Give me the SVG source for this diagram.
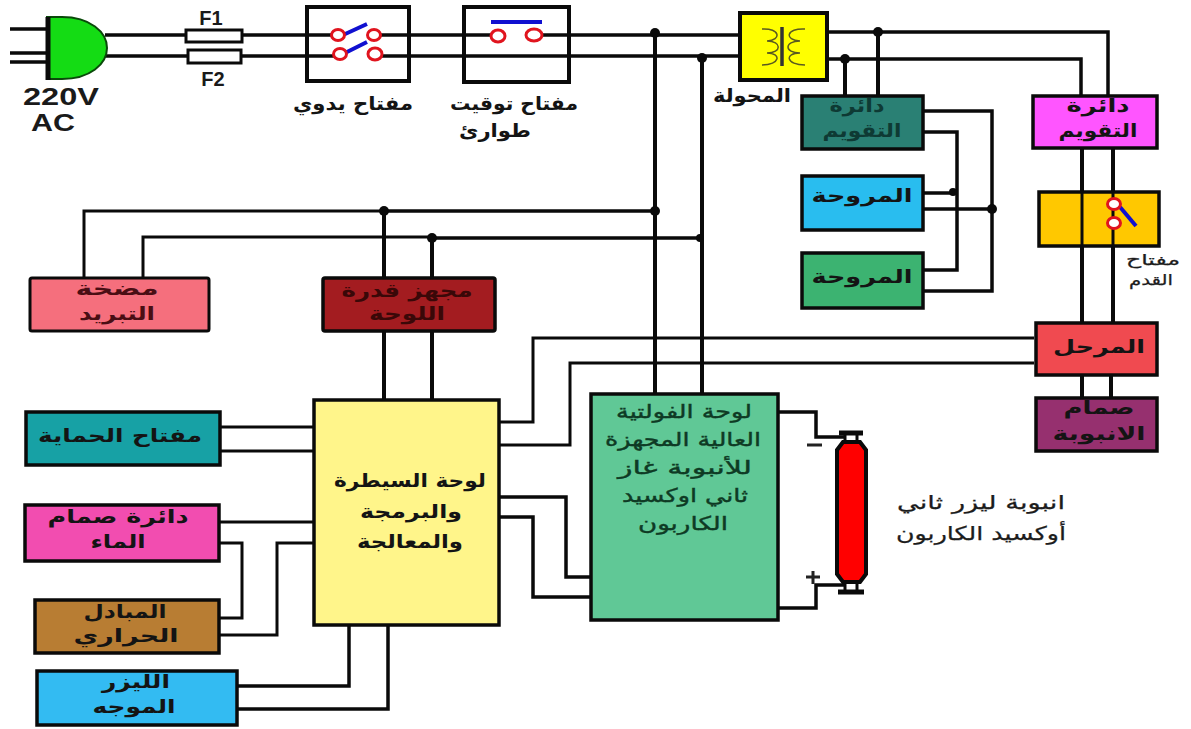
<svg xmlns="http://www.w3.org/2000/svg" width="1191" height="729" viewBox="0 0 1191 729">
<style>
.b{stroke:#0a0a0a;stroke-width:3.5}
.h{stroke:#0a0a0a;stroke-width:4}
.w{fill:none;stroke:#0a0a0a;stroke-width:3.5;stroke-linejoin:miter}
.v{fill:none;stroke:#0a0a0a;stroke-width:4}
.t{font-family:"DejaVu Sans",sans-serif;font-size:19px;font-weight:bold;text-anchor:middle;direction:rtl;fill:#141414}
.r{font-family:"DejaVu Sans",sans-serif;font-size:19px;text-anchor:middle;direction:rtl;fill:#1c1c1c;stroke:#1c1c1c;stroke-width:.25}
.l{font-family:"Liberation Sans",Arial,sans-serif;font-weight:bold;text-anchor:middle;fill:#1a1a1a}
.c{fill:#fff;stroke:#e0141e;stroke-width:3}
.s{stroke:#1010d0;stroke-width:4;fill:none}
</style>
<rect width="1191" height="729" fill="#fff"/>
<g id="connectors">
<path class="w" d="M10 29H47M10 53H47M10 62H47"/>
<path class="w" d="M105 35H333M380 35H493M539 35H738M105 56H334M381 56H738"/>
<path class="w" d="M828 32H1108V96M828 59H1081V96"/>
<path class="v" d="M878 32V96M845 59V96M655 33V393M702 58V393"/>
<path class="w" d="M385 211H655M433 238H702"/>
<path d="M84 277V211H385M143 277V237H433" fill="none" stroke="#0a0a0a" stroke-width="3"/>
<path class="v" d="M384 211V277M432 238V277M384 331V399M432 331V399"/>
<path class="w" d="M923 111H992V291H923M923 132H957V270H923M923 193H955M923 209H992"/>
<path class="v" d="M1082 149V192M1113 149V192M1082 246V323M1113 246V323M1082 375V398M1111 375V398"/>
<path d="M1034 338H533V422H499M1034 363H570V445H499" fill="none" stroke="#0a0a0a" stroke-width="3"/>
<path class="w" d="M499 497H566V577H590M499 517H533V597H590"/>
<path d="M220 427H313M220 451H313M219 522H313M219 543H242V618H219M219 635H277V543H313" fill="none" stroke="#0a0a0a" stroke-width="3"/>
<path class="w" d="M237 686H349V625M237 709H388V625"/>
<path class="w" d="M778 412H816V437H845M778 608H816V585H845"/>
<g fill="#0a0a0a"><circle cx="655" cy="33" r="5"/><circle cx="702" cy="58" r="5"/><circle cx="878" cy="32" r="5"/><circle cx="845" cy="59" r="5"/><circle cx="655" cy="211" r="5"/><circle cx="700" cy="238" r="4"/><circle cx="384" cy="211" r="5"/><circle cx="432" cy="238" r="5"/><circle cx="953" cy="192" r="4"/><circle cx="992" cy="209" r="5"/></g>
</g>
<g id="plug"><path d="M47 17H62C90 17 107 32 107 48C107 64 90 79 62 79H47Z" fill="#14dc14" stroke="#0a4a0a" stroke-width="2"/><path class="v" d="M48 17V80" style="stroke-width:5"/>
<text class="l" x="61" y="105" font-size="24" textLength="76" lengthAdjust="spacingAndGlyphs">220V</text><text class="l" x="53" y="131" font-size="24" textLength="44" lengthAdjust="spacingAndGlyphs">AC</text></g>
<g id="fuse-f1"><rect x="186" y="30" width="56" height="12" fill="#fff" class="b" style="stroke-width:3"/><text class="l" x="211" y="25" font-size="20">F1</text></g>
<g id="fuse-f2"><rect x="188" y="50" width="53" height="13" fill="#fff" class="b" style="stroke-width:3"/><text class="l" x="213" y="86" font-size="20">F2</text></g>
<g id="manual-switch"><rect x="307" y="7" width="102" height="74" fill="none" class="h"/>
<path class="s" d="M343 35L367 24M343 54L367 42"/><ellipse class="c" cx="338" cy="35" rx="6.5" ry="5.5"/><ellipse class="c" cx="374" cy="35" rx="6.5" ry="5.5"/><ellipse class="c" cx="340" cy="54" rx="6.5" ry="5.5"/><ellipse class="c" cx="375" cy="54" rx="7" ry="6"/>
<text class="t" x="353" y="110" textLength="120" lengthAdjust="spacingAndGlyphs">مفتاح يدوي</text></g>
<g id="timer-switch"><rect x="464" y="7" width="105" height="75" fill="none" class="h"/>
<path class="s" d="M491 22H542"/><ellipse class="c" cx="498" cy="36" rx="7" ry="6"/><ellipse class="c" cx="534" cy="35" rx="8" ry="6"/>
<text class="t" x="514" y="110" textLength="128" lengthAdjust="spacingAndGlyphs">مفتاح توقيت</text><text class="t" x="495" y="137" textLength="72" lengthAdjust="spacingAndGlyphs">طوارئ</text></g>
<g id="transformer"><rect x="740" y="13" width="87" height="67" fill="#ff0" class="h"/>
<path d="M782 27V66" stroke="#333" stroke-width="3.5" fill="none"/>
<path d="M762 29C780 28 782 40 767 41C782 41 782 53 767 53C782 53 780 65 762 65M805 29C786 28 784 40 800 41C784 41 784 53 800 53C784 53 786 65 805 65" stroke="#5a5a20" stroke-width="1.5" fill="none"/>
<text class="t" x="752" y="102" textLength="78" lengthAdjust="spacingAndGlyphs">المحولة</text></g>
<g id="calibration-1"><rect x="802" y="96" width="121" height="53" fill="#2a8074" class="b"/><text class="t" x="857" y="112" textLength="55" lengthAdjust="spacingAndGlyphs" style="fill:#0e3a34">دائرة</text><text class="t" x="862" y="137" textLength="79" lengthAdjust="spacingAndGlyphs" style="fill:#0e3a34">التقويم</text></g>
<g id="fan-1"><rect x="802" y="176" width="121" height="54" fill="#29bdef" class="b"/><text class="t" x="862" y="202" textLength="101" lengthAdjust="spacingAndGlyphs">المروحة</text></g>
<g id="fan-2"><rect x="802" y="253" width="121" height="55" fill="#3cb371" class="b"/><text class="t" x="862" y="283" textLength="101" lengthAdjust="spacingAndGlyphs">المروحة</text></g>
<g id="calibration-2"><rect x="1033" y="96" width="124" height="52" fill="#ff55ff" class="b"/><text class="t" x="1098" y="112" textLength="63" lengthAdjust="spacingAndGlyphs">دائرة</text><text class="t" x="1098" y="137" textLength="79" lengthAdjust="spacingAndGlyphs">التقويم</text></g>
<g id="foot-switch"><rect x="1039" y="192" width="120" height="54" fill="#ffc800" class="b"/>
<path class="v" d="M1082 192V246M1113 192V246" style="stroke-width:3"/>
<path class="s" d="M1120 207L1136 226"/><ellipse class="c" cx="1114" cy="204" rx="6.5" ry="5.5"/><ellipse class="c" cx="1114" cy="223" rx="6.5" ry="5.5"/>
<text class="r" x="1153" y="265" textLength="54" lengthAdjust="spacingAndGlyphs" style="font-size:15px">مفتاح</text><text class="r" x="1151" y="285" textLength="44" lengthAdjust="spacingAndGlyphs" style="font-size:15px">القدم</text></g>
<g id="stage"><rect x="1036" y="323" width="121" height="52" fill="#f04a50" class="b"/><text class="t" x="1099" y="353" textLength="92" lengthAdjust="spacingAndGlyphs">المرحل</text></g>
<g id="tube-valve"><rect x="1036" y="398" width="121" height="53" fill="#96306f" class="b"/><text class="t" x="1099" y="414" textLength="71" lengthAdjust="spacingAndGlyphs">صمام</text><text class="t" x="1099" y="440" textLength="93" lengthAdjust="spacingAndGlyphs">الانبوبة</text></g>
<g id="cooling-pump"><rect x="30" y="278" width="179" height="53" rx="2" fill="#f56f7d" class="b" style="stroke-width:3"/><text class="t" x="117" y="295" textLength="83" lengthAdjust="spacingAndGlyphs" style="fill:#4a0e14">مضخة</text><text class="t" x="117" y="320" textLength="76" lengthAdjust="spacingAndGlyphs" style="fill:#4a0e14">التبريد</text></g>
<g id="panel-power"><rect x="323" y="278" width="172" height="53" rx="2" fill="#a31c20" class="b"/><text class="t" x="407" y="297" textLength="131" lengthAdjust="spacingAndGlyphs" style="fill:#3a0808">مجهز قدرة</text><text class="t" x="407" y="320" textLength="76" lengthAdjust="spacingAndGlyphs" style="fill:#3a0808">اللوحة</text></g>
<g id="control-board"><rect x="314" y="400" width="185" height="225" fill="#fff58a" class="b"/><text class="t" x="410" y="487" textLength="152" lengthAdjust="spacingAndGlyphs">لوحة السيطرة</text><text class="t" x="411" y="518" textLength="102" lengthAdjust="spacingAndGlyphs">والبرمجة</text><text class="t" x="410" y="548" textLength="106" lengthAdjust="spacingAndGlyphs">والمعالجة</text></g>
<g id="hv-board"><rect x="591" y="394" width="187" height="226" fill="#60c896" class="b"/>
<g class="r" style="fill:#0e3a24;stroke:#0e3a24;stroke-width:.4"><text x="684" y="418" textLength="136" lengthAdjust="spacingAndGlyphs">لوحة الفولتية</text><text x="683" y="446" textLength="156" lengthAdjust="spacingAndGlyphs">العالية المجهزة</text><text x="685" y="474" textLength="134" lengthAdjust="spacingAndGlyphs">للأنبوبة غاز</text><text x="685" y="502" textLength="126" lengthAdjust="spacingAndGlyphs">ثاني اوكسيد</text><text x="683" y="530" textLength="90" lengthAdjust="spacingAndGlyphs">الكاربون</text></g></g>
<g id="protection-switch"><rect x="26" y="412" width="194" height="53" fill="#17a1a5" class="b"/><text class="t" x="120" y="442" textLength="164" lengthAdjust="spacingAndGlyphs">مفتاح الحماية</text></g>
<g id="water-valve"><rect x="25" y="505" width="194" height="56" fill="#f24db0" class="b"/><text class="t" x="118" y="523" textLength="141" lengthAdjust="spacingAndGlyphs">دائرة صمام</text><text class="t" x="118" y="548" textLength="55" lengthAdjust="spacingAndGlyphs">الماء</text></g>
<g id="heat-exchanger"><rect x="35" y="600" width="184" height="53" fill="#b87d33" class="b"/><text class="t" x="125" y="618" textLength="83" lengthAdjust="spacingAndGlyphs">المبادل</text><text class="t" x="126" y="642" textLength="105" lengthAdjust="spacingAndGlyphs">الحراري</text></g>
<g id="pilot-laser"><rect x="37" y="671" width="200" height="54" fill="#33bbf2" class="b"/><text class="t" x="136" y="688" textLength="68" lengthAdjust="spacingAndGlyphs">الليزر</text><text class="t" x="134" y="713" textLength="83" lengthAdjust="spacingAndGlyphs">الموجه</text></g>
<g id="laser-tube">
<path d="M839 433H863M838 592H864" stroke="#0a0a0a" stroke-width="5" fill="none"/>
<path d="M845 433V442M857 433V442M845 582V592M857 582V592" stroke="#0a0a0a" stroke-width="3" fill="none"/>
<path d="M843 442H860L866 450V574L860 582H843L837 574V450Z" fill="#f00" stroke="#0a0a0a" stroke-width="4"/>
<path d="M807 445H822M806 577H820M813 571V584" stroke="#222" stroke-width="3" fill="none"/>
<text class="r" x="981" y="509" textLength="168" lengthAdjust="spacingAndGlyphs">انبوبة ليزر ثاني</text><text class="r" x="981" y="540" textLength="170" lengthAdjust="spacingAndGlyphs">أوكسيد الكاربون</text></g>
</svg>
